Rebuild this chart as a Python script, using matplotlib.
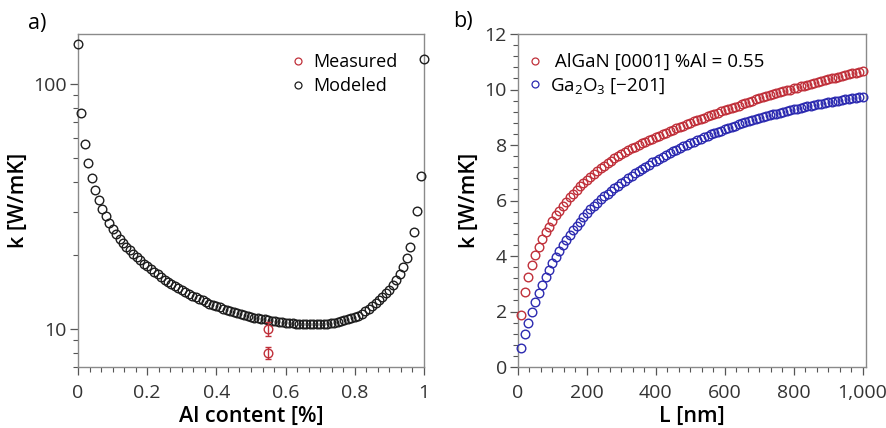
import numpy as np
import matplotlib
matplotlib.use("Agg")
import matplotlib.pyplot as plt
from matplotlib.ticker import MultipleLocator, FixedLocator, FuncFormatter, NullFormatter
from matplotlib.lines import Line2D

plt.rcParams["font.family"] = ["Open Sans", "DejaVu Sans"]
plt.rcParams["mathtext.fontset"] = "custom"
plt.rcParams["mathtext.rm"] = "Open Sans"
plt.rcParams["mathtext.it"] = "Open Sans:italic"

# ---- panel a: thermal conductivity vs Al content (AlGaN) ----
al_content = [i / 100 for i in range(101)]
k_modeled = [
    145, 76, 57, 47.5, 41.2, 36.8, 33.5, 31.0, 28.9, 27.1,
    25.6, 24.4, 23.4, 22.5, 21.7, 21.0, 20.3, 19.7, 19.1, 18.5,
    18.0, 17.5, 17.1, 16.7, 16.3, 15.9, 15.6, 15.3, 15.0, 14.7,
    14.4, 14.15, 13.9, 13.7, 13.5, 13.3, 13.1, 12.9, 12.7, 12.55,
    12.4, 12.25, 12.1, 11.95, 11.85, 11.75, 11.6, 11.5, 11.4, 11.3,
    11.2, 11.13, 11.06, 11.0, 10.95, 10.9, 10.82, 10.76, 10.7, 10.65,
    10.6, 10.57, 10.54, 10.51, 10.49, 10.47, 10.46, 10.45, 10.45, 10.46,
    10.48, 10.5, 10.53, 10.57, 10.62, 10.68, 10.75, 10.84, 10.94, 11.05,
    11.2, 11.35, 11.52, 11.8, 12.1, 12.4, 12.75, 13.1, 13.5, 14.0,
    14.5, 15.1, 15.9, 16.8, 17.9, 19.5, 21.6, 25.0, 30.3, 42.2,
    126,
]
al_measured = [0.55, 0.55]
k_measured = [10.0, 8.0]
k_measured_err = [0.65, 0.45]

# ---- panel b: thermal conductivity vs film thickness ----
thickness_nm = list(range(10, 1001, 10))
k_algan = [
    1.89, 2.70, 3.23, 3.67, 4.03, 4.33, 4.61, 4.85, 5.06, 5.27,
    5.46, 5.63, 5.80, 5.96, 6.11, 6.25, 6.38, 6.51, 6.63, 6.74,
    6.85, 6.96, 7.06, 7.16, 7.26, 7.35, 7.44, 7.52, 7.60, 7.68,
    7.75, 7.82, 7.88, 7.94, 8.00, 8.06, 8.12, 8.17, 8.23, 8.28,
    8.33, 8.39, 8.44, 8.49, 8.54, 8.60, 8.65, 8.70, 8.75, 8.80,
    8.85, 8.89, 8.94, 8.98, 9.03, 9.07, 9.12, 9.16, 9.21, 9.25,
    9.29, 9.34, 9.38, 9.42, 9.46, 9.51, 9.55, 9.59, 9.64, 9.68,
    9.72, 9.75, 9.79, 9.82, 9.86, 9.90, 9.93, 9.97, 10.00, 10.04,
    10.07, 10.11, 10.14, 10.17, 10.21, 10.24, 10.27, 10.30, 10.34, 10.37,
    10.40, 10.43, 10.46, 10.49, 10.52, 10.55, 10.58, 10.61, 10.64, 10.67,
]
k_ga2o3 = [
    0.69, 1.18, 1.60, 1.99, 2.35, 2.67, 2.97, 3.24, 3.50, 3.74,
    3.97, 4.18, 4.38, 4.57, 4.75, 4.92, 5.08, 5.24, 5.40, 5.55,
    5.68, 5.80, 5.92, 6.04, 6.15, 6.25, 6.35, 6.45, 6.54, 6.63,
    6.72, 6.81, 6.90, 6.98, 7.06, 7.14, 7.22, 7.29, 7.37, 7.44,
    7.51, 7.58, 7.64, 7.71, 7.77, 7.83, 7.90, 7.96, 8.01, 8.07,
    8.12, 8.18, 8.23, 8.28, 8.33, 8.38, 8.43, 8.48, 8.52, 8.57,
    8.61, 8.65, 8.70, 8.74, 8.78, 8.82, 8.86, 8.90, 8.94, 8.97,
    9.00, 9.04, 9.07, 9.10, 9.13, 9.16, 9.19, 9.22, 9.25, 9.28,
    9.31, 9.33, 9.36, 9.39, 9.41, 9.44, 9.46, 9.49, 9.51, 9.54,
    9.56, 9.58, 9.60, 9.62, 9.64, 9.66, 9.68, 9.70, 9.72, 9.74,
]

RED = "#c0303a"
BLUE = "#2c2ab0"
BLACK = "#1e1e1e"
SPINE = "#8a8a8a"
TICKTXT = "#333333"

fig = plt.figure(figsize=(8.86, 4.28), dpi=100)
ax_a = fig.add_axes([78 / 886, 1 - 367 / 428, 346 / 886, 333 / 428])
ax_b = fig.add_axes([518 / 886, 1 - 367 / 428, 348 / 886, 333 / 428])

mk = dict(marker="o", markersize=6.2, markerfacecolor="none", linestyle="none",
          markeredgewidth=1.0, clip_on=False)


def style_axes(ax):
    for s in ax.spines.values():
        s.set_color(SPINE)
        s.set_linewidth(1.0)
    ax.tick_params(which="major", direction="out", length=6, width=0.9,
                   color="#555555", labelsize=14, labelcolor=TICKTXT)
    ax.tick_params(axis="x", which="major", pad=6)
    ax.tick_params(axis="y", which="major", pad=2)
    ax.tick_params(which="minor", direction="out", length=3.5, width=0.8,
                   color="#555555")
    ax.tick_params(top=False, right=False, which="both")


def legend_handle(color, label):
    return Line2D([], [], marker="o", linestyle="none", markersize=5,
                  markerfacecolor="none", markeredgecolor=color,
                  markeredgewidth=0.9, label=label)


# panel a
ax_a.plot(al_content, k_modeled, color=BLACK, zorder=3, **mk)
ax_a.errorbar(al_measured, k_measured, yerr=k_measured_err, fmt="o",
              markersize=6.2, markerfacecolor="none", markeredgecolor=RED,
              markeredgewidth=1.0, ecolor=RED, elinewidth=1.0, capsize=2.5,
              capthick=1.0, zorder=4)
ax_a.set_yscale("log")
ax_a.set_xlim(0, 1)
ax_a.set_ylim(7.0, 160)
ax_a.yaxis.set_major_locator(FixedLocator([10, 100]))
ax_a.yaxis.set_major_formatter(FuncFormatter(lambda v, p: f"{v:g}"))
ax_a.yaxis.set_minor_locator(FixedLocator([7, 8, 9, 20, 30, 40, 50, 60, 70, 80, 90]))
ax_a.yaxis.set_minor_formatter(NullFormatter())
ax_a.xaxis.set_major_locator(MultipleLocator(0.2))
ax_a.xaxis.set_minor_locator(MultipleLocator(0.2 / 6))
ax_a.xaxis.set_major_formatter(FuncFormatter(lambda v, p: f"{v:g}"))
style_axes(ax_a)
ax_a.set_xlabel("Al content [%]", fontsize=15.5, fontweight="semibold", labelpad=3)
ax_a.set_ylabel("k [W/mK]", fontsize=15.5, fontweight="semibold", labelpad=3)

ax_a.legend(handles=[legend_handle(RED, "Measured"), legend_handle(BLACK, "Modeled")],
            loc="upper left", bbox_to_anchor=(0.6, 0.965),
            frameon=False, fontsize=13, handlelength=0.6, handletextpad=0.55,
            labelspacing=0.35, borderaxespad=0)

# panel b
ax_b.plot(thickness_nm, k_algan, color=RED, zorder=3, **mk)
ax_b.plot(thickness_nm, k_ga2o3, color=BLUE, zorder=3, **mk)
ax_b.set_xlim(0, 1010)
ax_b.set_ylim(0, 12)
ax_b.xaxis.set_major_locator(MultipleLocator(200))
ax_b.xaxis.set_minor_locator(MultipleLocator(200 / 6))
ax_b.xaxis.set_major_formatter(FuncFormatter(lambda v, p: f"{int(v):,}"))
ax_b.yaxis.set_major_locator(MultipleLocator(2))
ax_b.yaxis.set_minor_locator(MultipleLocator(0.4))
style_axes(ax_b)
ax_b.set_xlabel("L [nm]", fontsize=15.5, fontweight="semibold", labelpad=3)
ax_b.set_ylabel("k [W/mK]", fontsize=15.5, fontweight="semibold", labelpad=3)

ax_b.legend(handles=[legend_handle(RED, " AlGaN [0001] %Al = 0.55"),
                     legend_handle(BLUE, "Ga$_2$O$_3$ [\u2212201]")],
            loc="upper left", bbox_to_anchor=(0.01, 0.965),
            frameon=False, fontsize=13.5, handlelength=0.6, handletextpad=0.5,
            labelspacing=0.3, borderaxespad=0)

fig.text(28 / 886, 1 - 23 / 428, "a)", fontsize=15.5, va="center", ha="left")
fig.text(453 / 886, 1 - 22 / 428, "b)", fontsize=15.5, va="center", ha="left")

fig.savefig("out.png", dpi=100)
